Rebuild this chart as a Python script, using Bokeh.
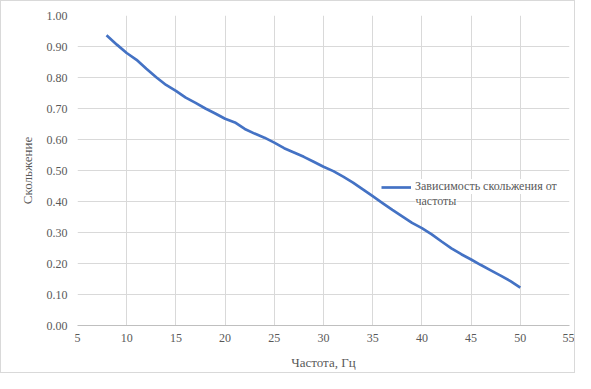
from bokeh.plotting import figure
from bokeh.models import Range1d, FixedTicker, Legend, LegendItem, Label, CustomJSTickFormatter
from bokeh.embed import file_html
from bokeh.resources import INLINE

freq = [7.95, 9, 10, 11, 12, 13, 14, 15, 16, 17, 18, 19, 20, 21, 22, 23, 24, 25, 26, 27, 28, 29,
        30, 31, 32, 33, 34, 35, 36, 37, 38, 39, 40, 41, 42, 43, 44, 45, 46, 47, 48, 49, 50]
slip = [0.936, 0.906, 0.879, 0.857, 0.828, 0.801, 0.776, 0.757, 0.735, 0.718, 0.700, 0.684, 0.667,
        0.655, 0.634, 0.619, 0.606, 0.590, 0.572, 0.558, 0.544, 0.528, 0.512, 0.498, 0.480, 0.461,
        0.439, 0.417, 0.395, 0.373, 0.352, 0.331, 0.314, 0.294, 0.271, 0.249, 0.230, 0.213, 0.195,
        0.178, 0.161, 0.143, 0.122]
x_ticks = [5, 10, 15, 20, 25, 30, 35, 40, 45, 50, 55]
y_ticks = [0.0, 0.1, 0.2, 0.3, 0.4, 0.5, 0.6, 0.7, 0.8, 0.9, 1.0]
legend_line1 = "Зависимость скольжения от"
legend_line2 = "частоты"
x_title = "Частота, Гц"
y_title = "Скольжение"

FONT = "Liberation Serif"
GRAY = "#595959"
GRID = "#d9d9d9"

p = figure(width=575, height=373, output_backend="svg", toolbar_location=None,
           x_range=Range1d(5, 55), y_range=Range1d(0, 1),
           min_border_left=76, min_border_right=7, min_border_top=14, min_border_bottom=49)
p.outline_line_color = None
p.background_fill_color = "white"
p.border_fill_color = "white"

line = p.line(freq, slip, line_color="#4472c4", line_width=2.7)

for ax in (p.xaxis[0], p.yaxis[0]):
    ax.major_label_text_font = FONT
    ax.major_label_text_font_size = "12px"
    ax.major_label_text_color = GRAY
    ax.axis_label_text_font = FONT
    ax.axis_label_text_font_style = "normal"
    ax.axis_label_text_font_size = "13px"
    ax.axis_label_text_color = GRAY
    ax.major_tick_line_color = None
    ax.minor_tick_line_color = None

p.xaxis[0].ticker = FixedTicker(ticks=x_ticks)
p.yaxis[0].ticker = FixedTicker(ticks=y_ticks)
p.yaxis[0].formatter = CustomJSTickFormatter(code="return tick.toFixed(2);")
p.xaxis[0].axis_label = x_title
p.yaxis[0].axis_label = y_title
p.xaxis[0].axis_line_color = "#bfbfbf"
p.yaxis[0].axis_line_color = None
p.xaxis[0].major_label_standoff = 2
p.yaxis[0].major_label_standoff = 4
p.xaxis[0].axis_label_standoff = 10
p.yaxis[0].axis_label_standoff = 9

p.xgrid.grid_line_color = GRID
p.ygrid.grid_line_color = GRID
p.xgrid.ticker = FixedTicker(ticks=x_ticks)
p.ygrid.ticker = FixedTicker(ticks=y_ticks)

legend = Legend(items=[LegendItem(label=legend_line1, renderers=[line])],
                location=(304, 131), border_line_color=None,
                background_fill_color="white", background_fill_alpha=1.0,
                label_text_font=FONT, label_text_font_size="12px",
                label_text_color=GRAY, glyph_width=30, glyph_height=14,
                label_height=14, label_standoff=4,
                padding=1, margin=0)
p.add_layout(legend, "center")

second = Label(x=338, y=118, x_units="screen", y_units="screen", text=legend_line2,
               text_font=FONT, text_font_size="12px", text_color=GRAY,
               background_fill_color="white", background_fill_alpha=1.0)
p.add_layout(second)

p.styles = {"border": "1px solid #d9d9d9"}

open("out.html", "w").write(file_html(p, INLINE))
